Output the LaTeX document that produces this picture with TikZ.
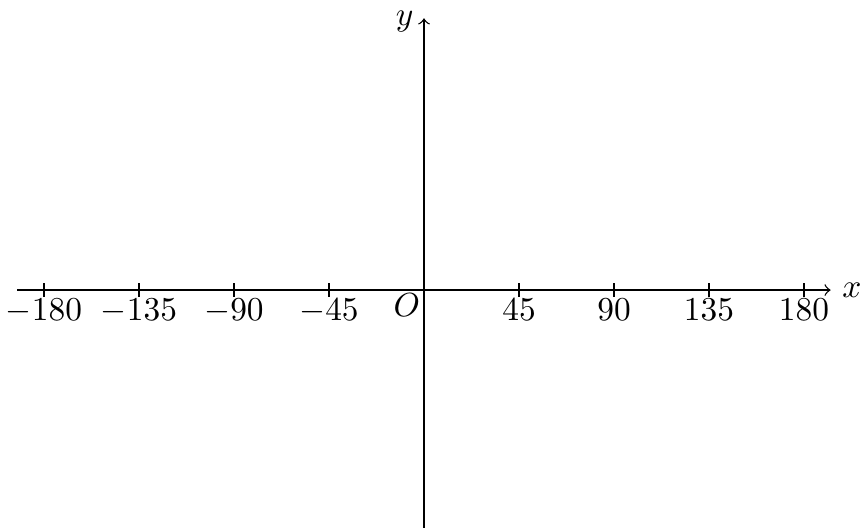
\documentclass[tikz,border=0pt]{standalone}
\usepackage{amsmath}
\usepackage{tikz}
\usetikzlibrary{arrows.meta, positioning, calc}
\tikzset{
  axis/.style={->, thin, color=black},
  tick/.style={thin, color=black},
  ticklabel/.style={below, inner sep=0.5pt}
}
\begin{document}
\begin{tikzpicture}[>=to]
  % Bounding box with the reference margins
  \useasboundingbox (-4.463, -2.537) rectangle (4.642, 3.053);

  % Axis end points
  \coordinate (O) at (0, 0);
  \coordinate (xmin) at (-4.28, 0);
  \coordinate (xmax) at (4.28, 0);
  \coordinate (ymin) at (0, -2.5);
  \coordinate (ymax) at (0, 2.86);

  % Axes
  \draw[axis] (xmin) -- (xmax) node[right] (xlab) {$x$};
  \draw[axis] (ymin) -- (ymax) node[left, inner sep=3pt, yshift=-1pt] (ylab) {$y$};
  \node[below left, inner sep=1pt] (olab) at (O) {$O$};

  % Ticks and their labels
  \foreach \k/\v in {-4/-180, -3/-135, -2/-90, -1/-45, 1/45, 2/90, 3/135, 4/180} {
    \draw[tick] (\k, 0.07) -- (\k, -0.07) coordinate (t\k);
    \node[ticklabel] (lab\k) at (t\k) {$\v$};
  }
\end{tikzpicture}
\end{document}
